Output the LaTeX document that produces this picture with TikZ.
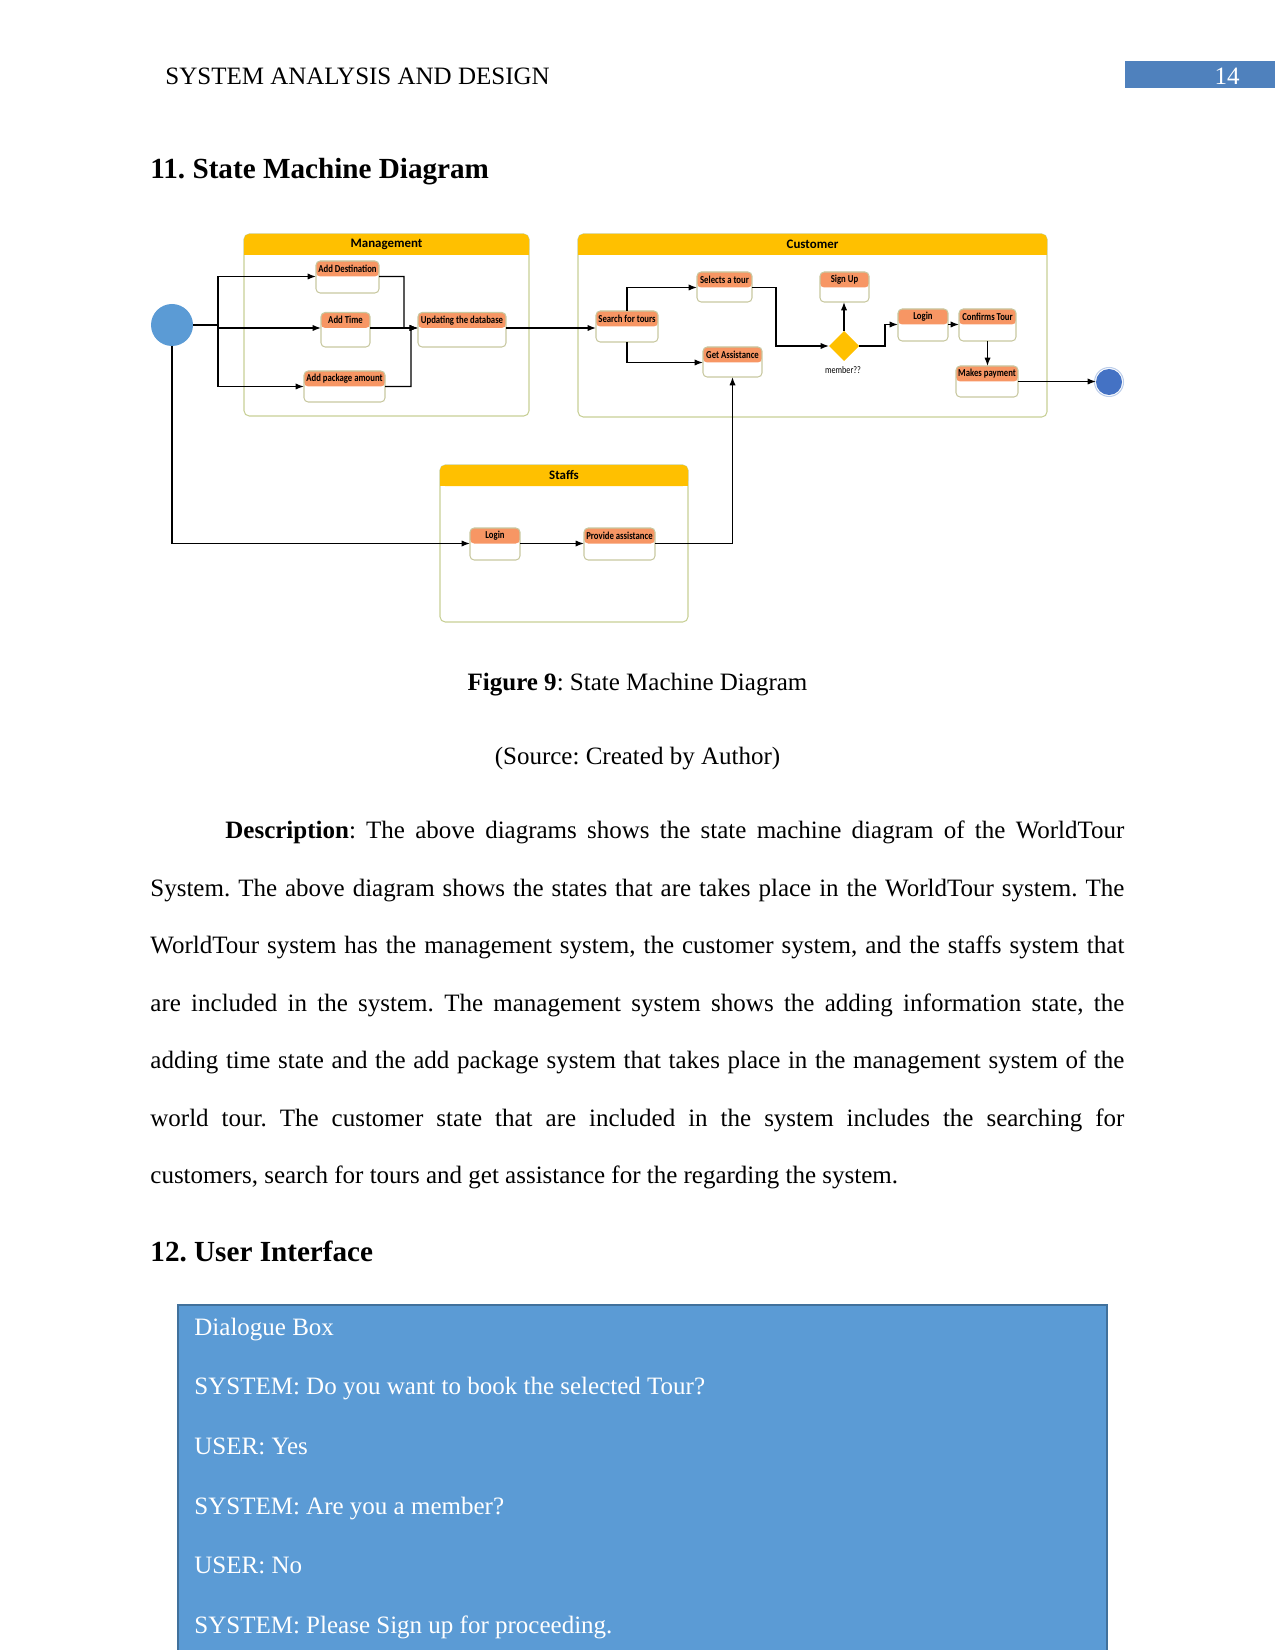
\documentclass[tikz,border=0pt]{standalone}
\usepackage{fontspec}
\setmainfont{Liberation Serif}
\newfontfamily\hdrfam{Carlito}
\newfontfamily\statefam[FakeStretch=0.82]{Carlito}
\usetikzlibrary{arrows.meta,shapes.geometric,calc}
\frenchspacing
\def\pxu{0.48pt}
\definecolor{hdryellow}{RGB}{255,192,0}
\definecolor{regbord}{RGB}{200,208,150}
\definecolor{stateorange}{RGB}{247,150,100}
\definecolor{statebord}{RGB}{200,200,160}
\definecolor{initblue}{RGB}{91,155,213}
\definecolor{finalblue}{RGB}{68,114,196}
\definecolor{pgblue}{RGB}{79,129,189}
\definecolor{dlgblue}{RGB}{91,155,213}
\definecolor{dlgbord}{RGB}{65,113,156}
\newcommand{\umlstate}[6]{%
  \node[statebox, minimum width={(#4-#2)*\pxu}, minimum height={(#5-#3)*\pxu}] (#1) at (#2,#3) {};
  \node[statetext] (#1-t) at ($(#1.north)+(0,7.75)$) {#6};
  \coordinate (#1-w) at ($(#1.north west)+(0,15.5)$);
  \coordinate (#1-e) at ($(#1.north east)+(0,15.5)$);
}
\newcommand{\umlregion}[6]{%
  \node[regionbox, minimum width={(#4-#2)*\pxu}, minimum height={(#5-#3)*\pxu}] (#1) at (#2,#3) {};
  \fill[hdryellow] ($(#1.north west)+(0,10)$) rectangle ($(#1.north east)+(0,21)$);
  \node[regionhdr, minimum width={(#4-#2)*\pxu}, minimum height={21*\pxu}] (#1-h) at (#2,#3) {#6};
}
\begin{document}
\begin{tikzpicture}[x=0.48pt,y=-0.48pt,
  pagetext/.style={anchor=base west, inner sep=0, font=\fontsize{12}{14}\selectfont},
  dlgtext/.style={pagetext, text=white},
  regionbox/.style={draw=regbord, fill=white, line width=0.5pt, rounded corners=2.5pt, anchor=north west, inner sep=0, outer sep=0},
  regionhdr/.style={fill=hdryellow, rounded corners=2.5pt, anchor=north west, inner sep=0, outer sep=0, font=\hdrfam\bfseries\fontsize{6.2}{7}\selectfont},
  statebox/.style={draw=statebord, fill=white, line width=0.5pt, rounded corners=2pt, anchor=north west, inner sep=0, outer sep=0,
    path picture={\fill[stateorange] (path picture bounding box.north west) rectangle ($(path picture bounding box.north east)+(0,15.5)$);}},
  statetext/.style={inner sep=0, font=\statefam\bfseries\fontsize{5.1}{6}\selectfont},
  ln/.style={draw=black, line width=0.6pt},
  arr/.style={ln, -{Latex[length=4pt,width=3pt]}}
]
\useasboundingbox (0,0) rectangle (1275,1650);

% page header
\fill[pgblue] (1125,61) rectangle (1275,88);
\node[pagetext] (hdr) at (165,84.5) {SYSTEM ANALYSIS AND DESIGN};
\node[pagetext, anchor=base east, text=white] (pgnum) at (1240,84.5) {14};
\node[pagetext, font=\bfseries\fontsize{14}{16}\selectfont] (h11) at (150,179) {11. State Machine Diagram};

% regions
\umlregion{mgmt}{244}{234}{529}{416}{Management}
\umlregion{cust}{578}{234}{1047}{417}{Customer}
\umlregion{staff}{440}{465}{688}{622}{Staffs}

% states
\umlstate{ad}{316}{261}{379}{293}{Add Destination}
\umlstate{at}{321}{312.5}{370}{347}{Add Time}
\umlstate{ap}{304}{371}{385}{402}{Add package amount}
\umlstate{ud}{418}{312.5}{506}{347}{Updating the database}
\umlstate{sft}{596}{311}{658}{342}{Search for tours}
\umlstate{sat}{697}{272}{752}{302}{Selects a tour}
\umlstate{ga}{703}{347}{762}{377}{Get Assistance}
\umlstate{su}{820}{272}{869}{302}{Sign Up}
\umlstate{cl}{898}{309}{948}{341}{Login}
\umlstate{ct}{959}{309}{1016}{341}{Confirms Tour}
\umlstate{mp}{956}{366}{1018}{397}{Makes payment}
\umlstate{sl}{470}{528}{520}{560}{Login}
\umlstate{pa}{584}{528}{655}{560}{Provide assistance}

% pseudo states
\node[circle, fill=initblue, minimum size={42*\pxu}, inner sep=0, outer sep=0] (init) at (172,325) {};
\node[circle, fill=finalblue, minimum size={26*\pxu}, inner sep=0, outer sep=0] (final) at (1109,382) {};
\draw[finalblue!35, line width=0.5pt] (final.center) circle[radius=14.5];
\node[diamond, fill=hdryellow, minimum width={30*\pxu}, minimum height={30*\pxu}, inner sep=0, outer sep=0] (dec) at (844,346) {};
\node[inner sep=0, font=\statefam\fontsize{4.8}{6}\selectfont] (mem) at (843,370) {member??};

% connectors
\coordinate (fork) at (218,325);
\draw[ln] (init.east) -- (fork);
\draw[arr] (fork) |- (ad-w);
\draw[arr] (fork) |- (at-w);
\draw[arr] (fork) |- (ap-w);
\draw[arr] (ad-e) -| (404,328) -- (ud-w);
\draw[arr] (at-e) -- (ud-w);
\draw[arr] (ap-e) -| (411,328) -- (ud-w);
\draw[arr] (ud-e) -- (ud-e -| sft.west);
\draw[arr] (sft.north) |- (sat-w);
\draw[arr] (sft.south) |- (ga-w);
\draw[arr] (sat-e) -| (776,346) -- (dec.west);
\draw[arr] (dec.north) -- (dec.north |- su.south);
\draw[arr] (dec.east) -- (885,346) |- (cl-w);
\draw[arr] (cl-e) -- (ct-w);
\draw[arr] (ct.south) -- (ct.south |- mp.north);
\draw[arr] (mp-e) -- (mp-e -| final.west);
\draw[arr] (init.south) |- (sl-w);
\draw[arr] (sl-e) -- (pa-w);
\draw[arr] (pa-e) -| (ga.south);

% captions
\node[pagetext, anchor=base] (cap) at (637.5,690) {\textbf{Figure 9}: State Machine Diagram};
\node[pagetext, anchor=base] (src) at (637.5,764) {(Source: Created by Author)};

% paragraph
\node[pagetext] (p1) at (225,838.5) {\makebox[431.5pt][s]{\textbf{Description}: The above diagrams shows the state machine diagram of the WorldTour}};
\node[pagetext] (p2) at (150,896) {\makebox[467.5pt][s]{System. The above diagram shows the states that are takes place in the WorldTour system. The}};
\node[pagetext] (p3) at (150,953.5) {\makebox[467.5pt][s]{WorldTour system has the management system, the customer system, and the staffs system that}};
\node[pagetext] (p4) at (150,1011) {\makebox[467.5pt][s]{are included in the system. The management system shows the adding information state, the}};
\node[pagetext] (p5) at (150,1068.5) {\makebox[467.5pt][s]{adding time state and the add package system that takes place in the management system of the}};
\node[pagetext] (p6) at (150,1126) {\makebox[467.5pt][s]{world tour. The customer state that are included in the system includes the searching for}};
\node[pagetext] (p7) at (150,1183.5) {customers, search for tours and get assistance for the regarding the system.};

\node[pagetext, font=\bfseries\fontsize{14}{16}\selectfont] (h12) at (150,1261) {12. User Interface};

% dialogue box
\fill[dlgblue] (178,1305) rectangle (1107,1650);
\draw[dlgbord, line width=0.8pt] (178,1650) -- (178,1305) -- (1107,1305) -- (1107,1650);
\node[dlgtext] (d1) at (194,1335) {Dialogue Box};
\node[dlgtext] (d2) at (194,1394.7) {SYSTEM: Do you want to book the selected Tour?};
\node[dlgtext] (d3) at (194,1454.4) {USER: Yes};
\node[dlgtext] (d4) at (194,1514) {SYSTEM: Are you a member?};
\node[dlgtext] (d5) at (194,1573.8) {USER: No};
\node[dlgtext] (d6) at (194,1633.5) {SYSTEM: Please Sign up for proceeding.};
\end{tikzpicture}
\end{document}
